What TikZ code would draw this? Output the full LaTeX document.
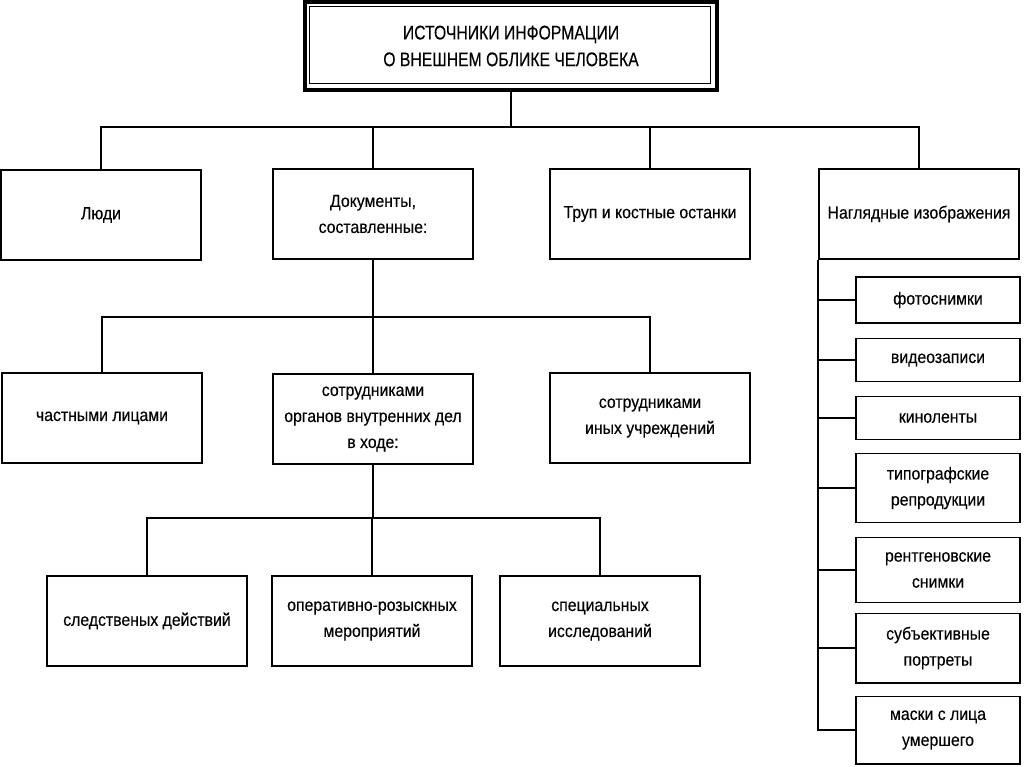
\documentclass[tikz,border=0pt]{standalone}
\usepackage{fontspec}
\setmainfont[FakeStretch=0.9, FakeBold=0.3]{Liberation Sans}
\newfontfamily\titlefont[FakeStretch=0.8, FakeBold=0.3]{Liberation Sans}
\usetikzlibrary{positioning, calc}

\begin{document}
\begin{tikzpicture}[
  x=0.025cm, y=-0.025cm,
  block/.style={rectangle, draw, line width=1.4pt, minimum width=5cm, minimum height=2.25cm, align=center, font=\fontsize{12.5}{18.5}\selectfont},
  item/.style={block, minimum width=4.1cm},
  title/.style={rectangle, draw, line width=2.4pt, minimum width=10.3cm, minimum height=2.2cm, align=center, font=\titlefont\fontsize{14}{19}\selectfont},
  link/.style={draw, line width=1.4pt}
]
  \useasboundingbox (0,0) rectangle (1024,767);

  % Title
  \node[title] (root) at (511,46) {ИСТОЧНИКИ ИНФОРМАЦИИ\\О ВНЕШНЕМ ОБЛИКЕ ЧЕЛОВЕКА};
  \draw[line width=0.9pt] ([shift={(6,6)}]root.north west) rectangle ([shift={(-8,-8)}]root.south east);

  % First level
  \node[block] (people) at (101,215) {Люди};
  \node[block] (docs) at (373,214) {Документы,\\составленные:};
  \node[block] (remains) at (650,214) {Труп и костные останки};
  \node[block] (images) at (919,214) {Наглядные изображения};

  % Documents by
  \node[block] (private) at (102,418) {частными лицами};
  \node[block] (police) at (373,419) {сотрудниками\\органов внутренних дел\\в ходе:};
  \node[block] (others) at (650,418) {сотрудниками\\иных учреждений};

  % In the course of
  \node[block] (invest) at (147,621) {следственых действий};
  \node[block] (search) at (372,621) {оперативно-розыскных\\мероприятий};
  \node[block] (special) at (600,621) {специальных\\исследований};

  % Images
  \node[item, minimum height=1.15cm] (photo) at (938,300) {фотоснимки};
  \node[item, minimum height=1.075cm] (video) at (938,360) {видеозаписи};
  \node[item, minimum height=1.075cm] (film) at (938,418) {киноленты};
  \node[item, minimum height=1.725cm] (print) at (938,488) {типографские\\репродукции};
  \node[item, minimum height=1.625cm] (xray) at (938,570) {рентгеновские\\снимки};
  \node[item, minimum height=1.725cm] (sketch) at (938,648) {субъективные\\портреты};
  \node[item, minimum height=1.675cm] (mask) at (938,730) {маски с лица\\умершего};

  % Links
  \coordinate (bus1) at (511,127);
  \coordinate (bus2) at (373,317);
  \coordinate (bus3) at (373,518);

  \draw[link] (root) -- (bus1);
  \draw[link] (bus1) -| (people);
  \draw[link] (bus1) -| (docs);
  \draw[link] (bus1) -| (remains);
  \draw[link] (bus1) -| (images);

  \draw[link] (docs) -- (bus2);
  \draw[link] (bus2) -| (private);
  \draw[link] (bus2) -| (police);
  \draw[link] (bus2) -| (others);

  \draw[link] (police) -- (bus3);
  \draw[link] (bus3) -| (invest);
  \draw[link] (bus3) -| (search);
  \draw[link] (bus3) -| (special);

  \draw[link] (images.south west) |- (photo);
  \draw[link] (images.south west) |- (video);
  \draw[link] (images.south west) |- (film);
  \draw[link] (images.south west) |- (print);
  \draw[link] (images.south west) |- (xray);
  \draw[link] (images.south west) |- (sketch);
  \draw[link] (images.south west) |- (mask);
\end{tikzpicture}
\end{document}
